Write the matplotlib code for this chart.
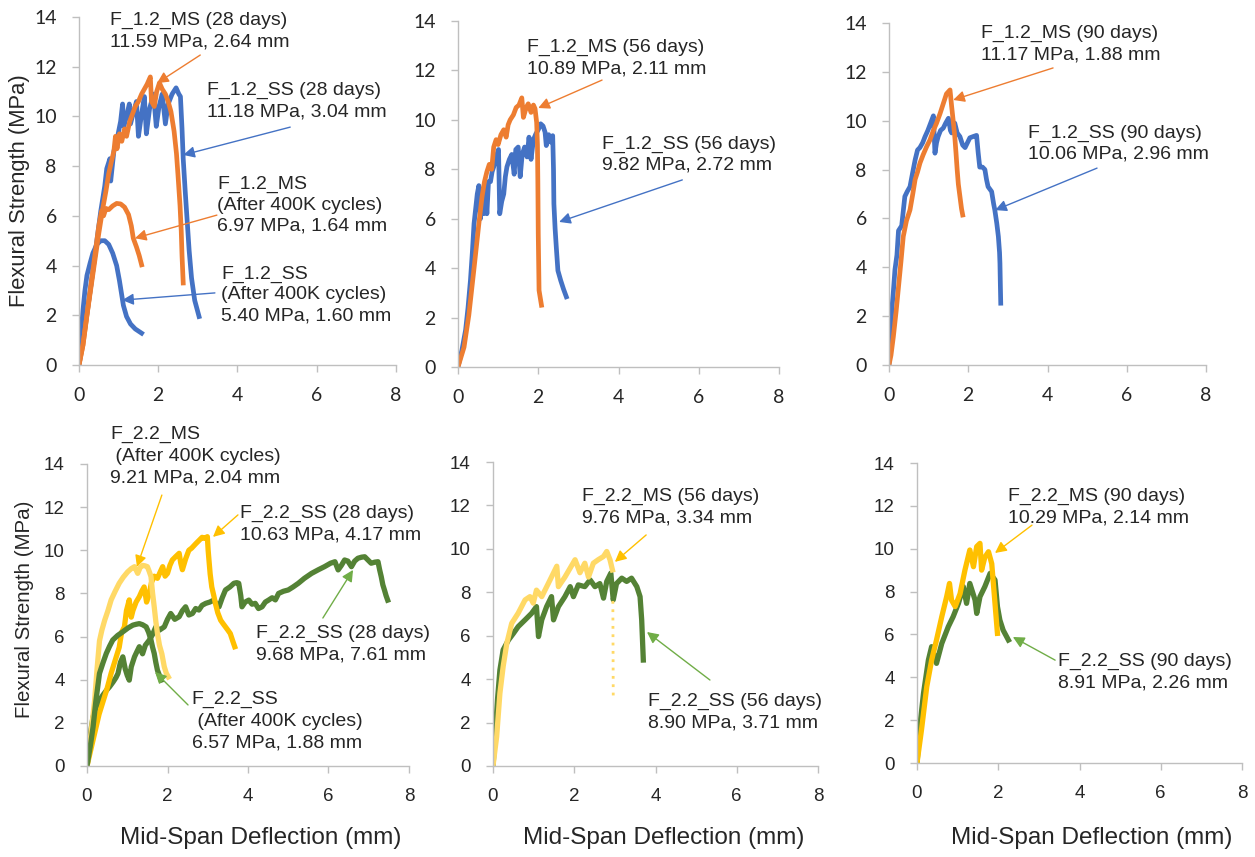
import matplotlib
matplotlib.use("Agg")
import matplotlib.pyplot as plt

# Curvas carga-deflexión
# Fila superior: F_1.2 (MS naranja, SS azul)
ss28_x = [0, 0.15, 0.3, 0.45, 0.55, 0.65, 0.7, 0.78, 0.8, 0.88, 0.95, 1.0, 1.05, 1.1, 1.13, 1.2, 1.27, 1.3,
          1.38, 1.45, 1.5, 1.58, 1.65, 1.7, 1.78, 1.88, 1.95, 2.02, 2.1, 2.18, 2.25, 2.35, 2.45, 2.52, 2.56,
          2.6, 2.63, 2.68, 2.73, 2.78, 2.84, 2.92, 3.03]
ss28_y = [0, 1.5, 3.2, 5.0, 6.2, 7.2, 7.9, 8.3, 7.4, 8.6, 9.0, 9.4, 9.8, 10.5, 9.6, 10.0, 10.5, 9.7,
          10.2, 10.6, 9.2, 10.1, 10.8, 9.3, 10.3, 10.9, 9.6, 10.4, 10.9, 9.7, 10.5, 10.9, 11.15, 10.9, 10.8,
          9.5, 8.3, 7.0, 5.8, 4.6, 3.5, 2.6, 1.95]
ms28_x = [0, 0.1, 0.2, 0.3, 0.4, 0.5, 0.6, 0.68, 0.75, 0.82, 0.88, 0.92, 0.96, 1.02, 1.08, 1.15, 1.2, 1.28,
          1.35, 1.42, 1.5, 1.58, 1.65, 1.72, 1.8, 1.83, 1.9, 1.96, 2.03, 2.1, 2.18, 2.25, 2.32, 2.4, 2.46,
          2.5, 2.55, 2.58, 2.6, 2.63]
ms28_y = [0, 0.8, 2.0, 3.1, 4.2, 5.3, 6.3, 7.0, 7.7, 8.2, 8.6, 9.2, 8.7, 9.3, 9.0, 9.5, 9.2, 9.8,
          10.1, 10.4, 10.6, 10.9, 11.1, 11.3, 11.59, 10.6, 10.4, 11.0, 11.35, 11.1, 10.9, 10.6, 10.2, 9.4, 8.5,
          7.6, 6.4, 5.4, 4.4, 3.3]
ms400k_x = [0, 0.1, 0.2, 0.3, 0.4, 0.5, 0.57, 0.62, 0.68, 0.75, 0.85, 0.95, 1.05, 1.15, 1.25, 1.32, 1.37,
            1.45, 1.52, 1.58]
ms400k_y = [0, 0.8, 2.0, 3.2, 4.4, 5.6, 6.2, 6.0, 6.3, 6.25, 6.4, 6.5, 6.48, 6.35, 6.05, 5.6, 5.1,
            4.75, 4.4, 4.03]
ss400k_x = [0, 0.05, 0.1, 0.15, 0.2, 0.28, 0.35, 0.45, 0.55, 0.65, 0.75, 0.85, 0.95, 1.02, 1.07, 1.12, 1.2,
            1.3, 1.42, 1.58]
ss400k_y = [0.2, 1.2, 2.2, 3.0, 3.6, 4.1, 4.5, 4.85, 5.0, 5.0, 4.85, 4.5, 4.0, 3.4, 2.9, 2.4, 1.95,
            1.65, 1.45, 1.28]

ms56_x = [0, 0.15, 0.27, 0.4, 0.52, 0.6, 0.66, 0.72, 0.78, 0.84, 0.89, 0.95, 1.0, 1.07, 1.14, 1.2, 1.25,
          1.3, 1.38, 1.45, 1.52, 1.59, 1.63, 1.7, 1.75, 1.82, 1.88, 1.92, 1.96, 1.98, 1.99, 2.0, 2.02, 2.08]
ms56_y = [0, 0.8, 2.1, 4.0, 5.8, 6.9, 7.5, 7.9, 8.2, 8.0, 8.9, 9.2, 9.0, 9.4, 9.6, 9.3, 9.8,
          10.0, 10.2, 10.5, 10.6, 10.89, 10.1, 10.5, 10.65, 10.3, 10.6, 10.45, 9.9, 9.0, 7.5, 5.4, 3.1, 2.5]
ss56_x = [0, 0.1, 0.19, 0.25, 0.31, 0.36, 0.4, 0.44, 0.48, 0.52, 0.56, 0.6, 0.64, 0.68, 0.72, 0.76, 0.81,
          0.85, 0.89, 0.95, 1.01, 1.04, 1.09, 1.14, 1.18, 1.22, 1.28, 1.34, 1.4, 1.44, 1.5, 1.55, 1.6, 1.66,
          1.72, 1.77, 1.82, 1.88, 1.94, 2.0, 2.06, 2.12, 2.17, 2.2, 2.26, 2.31, 2.36, 2.38, 2.39, 2.42, 2.45,
          2.49, 2.56, 2.63, 2.7]
ss56_y = [0, 0.7, 1.5, 2.4, 3.5, 4.7, 5.8, 6.4, 7.0, 7.34, 6.0, 7.2, 6.2, 7.3, 6.2, 7.5, 7.5,
          7.9, 8.1, 8.5, 8.8, 6.2, 6.7, 7.0, 7.7, 8.1, 8.4, 8.6, 7.8, 8.8, 8.9, 7.7, 8.6, 8.9,
          8.5, 9.3, 8.4, 9.2, 9.43, 9.6, 9.84, 9.75, 9.5, 8.96, 9.4, 9.1, 9.36, 8.0, 6.6, 5.6, 4.84,
          3.9, 3.5, 3.15, 2.84]

ss90_x = [0, 0.03, 0.07, 0.11, 0.15, 0.2, 0.24, 0.28, 0.32, 0.36, 0.4, 0.46, 0.53, 0.6, 0.66, 0.72, 0.78,
          0.85, 0.91, 0.98, 1.05, 1.12, 1.16, 1.2, 1.24, 1.3, 1.37, 1.43, 1.5, 1.55, 1.58, 1.62, 1.66, 1.72,
          1.79, 1.86, 1.92, 1.98, 2.04, 2.12, 2.21, 2.25, 2.29, 2.36, 2.42, 2.46, 2.5, 2.59, 2.64, 2.67, 2.72,
          2.76, 2.79, 2.8, 2.81, 2.82]
ss90_y = [0, 1.0, 2.25, 3.0, 3.9, 4.5, 5.5, 5.6, 5.7, 6.3, 6.9, 7.1, 7.3, 7.9, 8.4, 8.8, 8.9,
          9.1, 9.35, 9.6, 9.9, 10.2, 8.67, 9.1, 9.35, 9.6, 9.7, 9.9, 10.1, 9.6, 9.5, 9.8, 9.9, 9.5,
          9.35, 9.0, 8.9, 9.1, 9.3, 9.35, 9.4, 8.7, 8.1, 8.1, 8.0, 7.6, 7.3, 7.1, 6.6, 6.35, 5.8,
          5.26, 4.6, 4.16, 3.3, 2.53]
ms90_x = [0, 0.05, 0.11, 0.18, 0.24, 0.3, 0.36, 0.44, 0.53, 0.6, 0.66, 0.72, 0.78, 0.86, 0.95, 1.03, 1.12,
          1.2, 1.29, 1.37, 1.45, 1.54, 1.58, 1.62, 1.66, 1.69, 1.72, 1.75, 1.79, 1.83, 1.86]
ms90_y = [0, 0.4, 1.16, 2.2, 3.2, 4.2, 5.26, 5.9, 6.35, 7.0, 7.6, 7.9, 8.26, 8.6, 8.94, 9.2, 9.6,
          9.9, 10.3, 10.7, 11.1, 11.26, 10.6, 10.0, 9.35, 8.7, 8.0, 7.4, 6.9, 6.4, 6.14]

# Fila inferior: F_2.2 (MS amarillo, SS verde)
ms22_400k_x = [0, 0.08, 0.14, 0.19, 0.25, 0.31, 0.37, 0.44, 0.52, 0.6, 0.7, 0.8, 0.9, 1.01, 1.1, 1.18, 1.26,
               1.32, 1.38, 1.44, 1.5, 1.55, 1.59, 1.63, 1.67, 1.71, 1.75, 1.8, 1.86, 1.92, 1.97, 2.02]
ms22_400k_y = [0, 1.2, 2.2, 3.05, 4.5, 5.8, 6.3, 6.76, 7.2, 7.7, 8.1, 8.47, 8.75, 9.0, 9.15, 9.24, 8.93,
               9.2, 9.3, 9.28, 9.24, 9.0, 8.78, 8.0, 7.38, 6.7, 6.15, 5.6, 5.2, 4.6, 4.3, 4.13]
ms22_28_x = [0, 0.1, 0.2, 0.3, 0.4, 0.5, 0.6, 0.7, 0.8, 0.86, 0.93, 0.98, 1.05, 1.1, 1.14, 1.22, 1.3, 1.36,
             1.42, 1.48, 1.55, 1.6, 1.67, 1.75, 1.82, 1.88, 1.94, 2.0, 2.06, 2.12, 2.2, 2.29, 2.33, 2.37, 2.45,
             2.53, 2.6, 2.7, 2.78, 2.86, 2.92, 2.99, 3.01, 3.03, 3.06, 3.1, 3.15, 3.19, 3.25, 3.32, 3.38, 3.44,
             3.5, 3.56, 3.62, 3.67]
ms22_28_y = [0, 0.8, 1.6, 2.4, 3.0, 3.6, 4.3, 4.9, 5.5, 6.2, 6.45, 7.2, 7.7, 6.9, 7.2, 7.6, 7.85, 8.1,
             8.3, 7.6, 8.0, 8.5, 8.8, 8.7, 9.0, 9.24, 8.8, 8.93, 9.3, 9.55, 9.7, 9.86, 9.4, 9.1, 9.6,
             10.0, 10.1, 10.3, 10.45, 10.6, 10.55, 10.63, 10.0, 9.55, 8.9, 8.3, 7.9, 7.54, 7.1, 6.76, 6.6, 6.45,
             6.3, 6.14, 5.8, 5.53]
ss22_28_x = [0, 0.05, 0.1, 0.15, 0.22, 0.31, 0.4, 0.48, 0.56, 0.65, 0.72, 0.77, 0.83, 0.89, 0.95, 1.0, 1.05,
             1.1, 1.18, 1.24, 1.3, 1.38, 1.45, 1.55, 1.63, 1.71, 1.8, 1.92, 2.0, 2.08, 2.18, 2.29, 2.37, 2.45,
             2.53, 2.62, 2.7, 2.78, 2.86, 2.95, 3.05, 3.15, 3.22, 3.28, 3.36, 3.44, 3.55, 3.65, 3.72, 3.77, 3.82,
             3.85, 3.93, 4.02, 4.1, 4.18, 4.26, 4.35, 4.43, 4.51, 4.6, 4.68, 4.76, 4.88, 5.0, 5.12, 5.25, 5.4,
             5.58, 5.75, 5.9, 6.05, 6.16, 6.24, 6.32, 6.4, 6.48, 6.57, 6.65, 6.73, 6.82, 6.9, 6.98, 7.06, 7.15,
             7.23, 7.27, 7.31, 7.35, 7.39, 7.43, 7.47]
ss22_28_y = [0, 0.9, 1.7, 2.27, 2.7, 3.05, 3.3, 3.5, 3.67, 3.9, 4.1, 4.29, 4.8, 5.06, 4.5, 4.2, 3.98,
             4.6, 5.06, 5.3, 5.53, 5.2, 5.6, 5.84, 6.1, 6.45, 6.3, 6.45, 6.8, 7.07, 6.8, 6.92, 7.2, 7.38,
             7.0, 7.07, 7.3, 7.23, 7.45, 7.54, 7.6, 7.69, 7.5, 7.38, 7.8, 8.16, 8.3, 8.47, 8.5, 8.47, 7.9,
             7.38, 7.6, 7.69, 7.5, 7.54, 7.3, 7.38, 7.6, 7.69, 7.8, 7.7, 8.0, 8.1, 8.16, 8.3, 8.47, 8.7,
             8.93, 9.1, 9.24, 9.4, 9.47, 9.09, 9.3, 9.55, 9.5, 9.24, 9.5, 9.63, 9.68, 9.7, 9.55, 9.4, 9.45,
             9.47, 9.1, 8.78, 8.4, 8.16, 7.9, 7.69]
ss22_400k_x = [0, 0.08, 0.15, 0.22, 0.31, 0.4, 0.48, 0.56, 0.64, 0.76, 0.89, 1.02, 1.14, 1.22, 1.3, 1.38,
               1.47, 1.53, 1.59, 1.63, 1.67, 1.71, 1.75, 1.8, 1.84]
ss22_400k_y = [0, 0.9, 1.8, 3.0, 4.29, 4.8, 5.22, 5.55, 5.84, 6.05, 6.22, 6.4, 6.53, 6.57, 6.6, 6.55,
               6.45, 6.2, 5.84, 5.5, 5.22, 4.8, 4.44, 4.2, 3.98]

ms22_56_x = [0, 0.09, 0.17, 0.25, 0.34, 0.46, 0.62, 0.79, 0.91, 0.99, 1.07, 1.2, 1.36, 1.57, 1.61, 1.77, 2.02,
             2.14, 2.26, 2.35, 2.47, 2.59, 2.72, 2.8, 2.88, 2.94]
ms22_56_y = [0, 1.35, 3.35, 4.58, 5.65, 6.57, 7.04, 7.65, 7.8, 7.5, 8.1, 7.8, 8.4, 9.2, 8.26, 8.7, 9.5,
             8.9, 9.34, 8.7, 9.34, 9.5, 9.65, 9.88, 9.5, 9.03]
ms22_56_drop_x = [2.95, 2.96]
ms22_56_drop_y = [7.6, 3.2]
ss22_56_x = [0, 0.05, 0.11, 0.17, 0.25, 0.38, 0.5, 0.62, 0.79, 0.95, 1.07, 1.12, 1.2, 1.32, 1.44, 1.49, 1.61,
             1.77, 1.9, 1.98, 2.1, 2.26, 2.39, 2.51, 2.63, 2.72, 2.8, 2.9, 2.96, 3.04, 3.17, 3.29, 3.41, 3.54,
             3.62, 3.66, 3.7]
ss22_56_y = [0, 1.35, 3.04, 4.42, 5.35, 5.8, 6.1, 6.42, 6.73, 7.03, 7.34, 5.96, 6.73, 7.34, 7.8, 6.73, 7.34,
             7.8, 8.26, 7.8, 8.34, 8.26, 8.57, 8.26, 8.4, 7.73, 8.5, 8.88, 7.65, 8.4, 8.65, 8.5, 8.65, 8.26,
             7.8, 6.73, 4.88]

ms22_90_x = [0, 0.11, 0.24, 0.36, 0.48, 0.61, 0.73, 0.8, 0.85, 0.94, 1.06, 1.18, 1.3, 1.39, 1.47, 1.55, 1.59,
             1.67, 1.76, 1.84, 1.92, 1.98]
ms22_90_y = [0, 1.54, 3.56, 4.8, 5.74, 6.83, 7.76, 8.38, 7.6, 7.3, 7.9, 9.0, 9.94, 9.16, 10.1, 10.25, 9.0,
             9.6, 9.86, 9.3, 7.45, 6.05]
ss22_90_x = [0, 0.07, 0.16, 0.28, 0.36, 0.48, 0.61, 0.77, 0.89, 1.02, 1.14, 1.22, 1.3, 1.43, 1.47, 1.55, 1.67,
             1.8, 1.92, 1.98, 2.04, 2.12, 2.25]
ss22_90_y = [0, 1.7, 3.25, 4.8, 5.43, 4.65, 5.58, 6.36, 6.83, 7.45, 8.23, 7.45, 8.38, 7.6, 6.98, 7.76, 8.23,
             8.85, 8.54, 7.3, 6.67, 6.2, 5.74]

AZUL = "#4472C4"
NARANJA = "#ED7D31"
AMARILLO_CLARO = "#FFD966"
AMARILLO = "#FFC000"
VERDE = "#548235"
VERDE_FLECHA = "#70AD47"
TXT = "#262626"

W, H = 1255, 857
fig = plt.figure(figsize=(W / 100, H / 100), dpi=100)


def rect(x0, x1, y_bot, y_top):
    return [x0 / W, 1 - y_bot / H, (x1 - x0) / W, (y_bot - y_top) / H]


def ejes(r, font_ticks, size_ticks):
    ax = fig.add_axes(r)
    ax.set_xlim(0, 8)
    ax.set_ylim(0, 14)
    ax.set_xticks(range(0, 9, 2))
    ax.set_yticks(range(0, 15, 2))
    for s in ["top", "right"]:
        ax.spines[s].set_visible(False)
    for s in ["left", "bottom"]:
        ax.spines[s].set_color("#BFBFBF")
        ax.spines[s].set_linewidth(1.0)
    ax.tick_params(direction="out", length=5, width=1, color="#BFBFBF", pad=11,
                   labelsize=size_ticks, labelcolor=TXT)
    for lab in ax.get_xticklabels() + ax.get_yticklabels():
        lab.set_fontfamily(font_ticks)
    return ax


def nota(ax, x, y, s, size=14, ls=1.3):
    ax.text(x, y, s, ha="left", va="center", fontsize=size, color=TXT,
            family="Liberation Sans", linespacing=ls, clip_on=False)


def flecha(ax, cola, punta, color):
    ax.annotate("", xy=punta, xytext=cola, annotation_clip=False,
                arrowprops=dict(arrowstyle="-|>", color=color, lw=1.0,
                                mutation_scale=17, shrinkA=0, shrinkB=0))


LW_TOP = 3.4
LW_BOT = 3.8
LS_BOT = 1.36

# Panel 1
ax = ejes(rect(79, 396, 365, 17), "Lato", 14)
ax.plot(ss400k_x, ss400k_y, color=AZUL, lw=LW_TOP)
ax.plot(ss28_x, ss28_y, color=AZUL, lw=LW_TOP)
ax.plot(ms400k_x, ms400k_y, color=NARANJA, lw=LW_TOP)
ax.plot(ms28_x, ms28_y, color=NARANJA, lw=LW_TOP)
nota(ax, 0.78, 13.43, "F_1.2_MS (28 days)\n11.59 MPa, 2.64 mm")
nota(ax, 3.23, 10.62, "F_1.2_SS (28 days)\n11.18 MPa, 3.04 mm")
nota(ax, 3.48, 6.44, "F_1.2_MS\n(After 400K cycles)\n6.97 MPa, 1.64 mm")
nota(ax, 3.59, 2.82, "F_1.2_SS\n(After 400K cycles)\n5.40 MPa, 1.60 mm")
flecha(ax, (3.06, 12.47), (1.97, 11.34), NARANJA)
flecha(ax, (5.33, 9.57), (2.63, 8.45), AZUL)
flecha(ax, (3.48, 6.03), (1.41, 5.1), NARANJA)
flecha(ax, (3.43, 2.9), (1.09, 2.61), AZUL)

# Panel 2
ax = ejes(rect(458, 779, 367, 21), "Lato", 14)
ax.plot(ss56_x, ss56_y, color=AZUL, lw=LW_TOP)
ax.plot(ms56_x, ms56_y, color=NARANJA, lw=LW_TOP)
nota(ax, 1.72, 12.5, "F_1.2_MS (56 days)\n10.89 MPa, 2.11 mm")
nota(ax, 3.59, 8.58, "F_1.2_SS (56 days)\n9.82 MPa, 2.72 mm")
flecha(ax, (3.59, 11.61), (2.0, 10.48), NARANJA)
flecha(ax, (5.59, 7.57), (2.52, 5.87), AZUL)

# Panel 3
ax = ejes(rect(889, 1206, 365, 23), "Lato", 14)
ax.plot(ss90_x, ss90_y, color=AZUL, lw=LW_TOP)
ax.plot(ms90_x, ms90_y, color=NARANJA, lw=LW_TOP)
nota(ax, 2.32, 13.14, "F_1.2_MS (90 days)\n11.17 MPa, 1.88 mm")
nota(ax, 3.51, 9.05, "F_1.2_SS (90 days)\n10.06 MPa, 2.96 mm")
flecha(ax, (4.14, 12.16), (1.62, 10.85), NARANJA)
flecha(ax, (5.25, 8.06), (2.68, 6.34), AZUL)

# Panel 4
ax = ejes(rect(87, 409, 766, 464), "Liberation Sans", 13.5)
ax.plot(ss22_28_x, ss22_28_y, color=VERDE, lw=LW_BOT)
ax.plot(ms22_28_x, ms22_28_y, color=AMARILLO, lw=LW_BOT)
ax.plot(ms22_400k_x, ms22_400k_y, color=AMARILLO_CLARO, lw=LW_BOT)
ax.plot(ss22_400k_x, ss22_400k_y, color=VERDE, lw=LW_BOT)
nota(ax, 0.57, 14.37, "F_2.2_MS\n (After 400K cycles)\n9.21 MPa, 2.04 mm", 14, LS_BOT)
nota(ax, 3.8, 11.22, "F_2.2_SS (28 days)\n10.63 MPa, 4.17 mm", 14, LS_BOT)
nota(ax, 4.2, 5.66, "F_2.2_SS (28 days)\n9.68 MPa, 7.61 mm", 14, LS_BOT)
nota(ax, 2.6, 2.09, "F_2.2_SS\n (After 400K cycles)\n6.57 MPa, 1.88 mm", 14, LS_BOT)
flecha(ax, (1.86, 12.56), (1.24, 9.23), AMARILLO)
flecha(ax, (3.75, 11.64), (3.13, 10.62), AMARILLO)
flecha(ax, (5.86, 6.86), (6.61, 9.09), VERDE_FLECHA)
flecha(ax, (2.51, 2.83), (1.69, 4.36), VERDE_FLECHA)

# Panel 5
ax = ejes(rect(493, 818, 766, 462), "Liberation Sans", 13.5)
ax.plot(ss22_56_x, ss22_56_y, color=VERDE, lw=LW_BOT)
ax.plot(ms22_56_x, ms22_56_y, color=AMARILLO_CLARO, lw=LW_BOT)
ax.plot(ms22_56_drop_x, ms22_56_drop_y, color=AMARILLO_CLARO, lw=2, ls=(0, (1, 2)))
nota(ax, 2.19, 11.93, "F_2.2_MS (56 days)\n9.76 MPa, 3.34 mm", 14, LS_BOT)
nota(ax, 3.82, 2.49, "F_2.2_SS (56 days)\n8.90 MPa, 3.71 mm", 14, LS_BOT)
flecha(ax, (3.77, 10.64), (3.0, 9.4), AMARILLO)
flecha(ax, (5.34, 3.96), (3.79, 6.17), VERDE_FLECHA)

# Panel 6
ax = ejes(rect(917, 1242, 763, 463), "Liberation Sans", 13.5)
ax.plot(ss22_90_x, ss22_90_y, color=VERDE, lw=LW_BOT)
ax.plot(ms22_90_x, ms22_90_y, color=AMARILLO, lw=LW_BOT)
nota(ax, 2.24, 11.95, "F_2.2_MS (90 days)\n10.29 MPa, 2.14 mm", 14, LS_BOT)
nota(ax, 3.47, 4.25, "F_2.2_SS (90 days)\n8.91 MPa, 2.26 mm", 14, LS_BOT)
flecha(ax, (2.83, 11.1), (1.92, 9.8), AMARILLO)
flecha(ax, (3.4, 4.8), (2.36, 5.88), VERDE_FLECHA)

# Títulos de ejes
fig.text(20 / W, 1 - 191 / H, "Flexural Strength (MPa)", rotation=90, ha="center", va="center",
         fontsize=15.8, color=TXT, family="Liberation Sans")
fig.text(25 / W, 1 - 609 / H, "Flexural Strength (MPa)", rotation=90, ha="center", va="center",
         fontsize=14.8, color=TXT, family="Liberation Sans")
for xc in [261, 664, 1092]:
    fig.text(xc / W, 1 - 838 / H, "Mid-Span Deflection (mm)", ha="center", va="center",
             fontsize=17.5, color=TXT, family="Liberation Sans")

fig.savefig("out.png", dpi=100, facecolor="white")
